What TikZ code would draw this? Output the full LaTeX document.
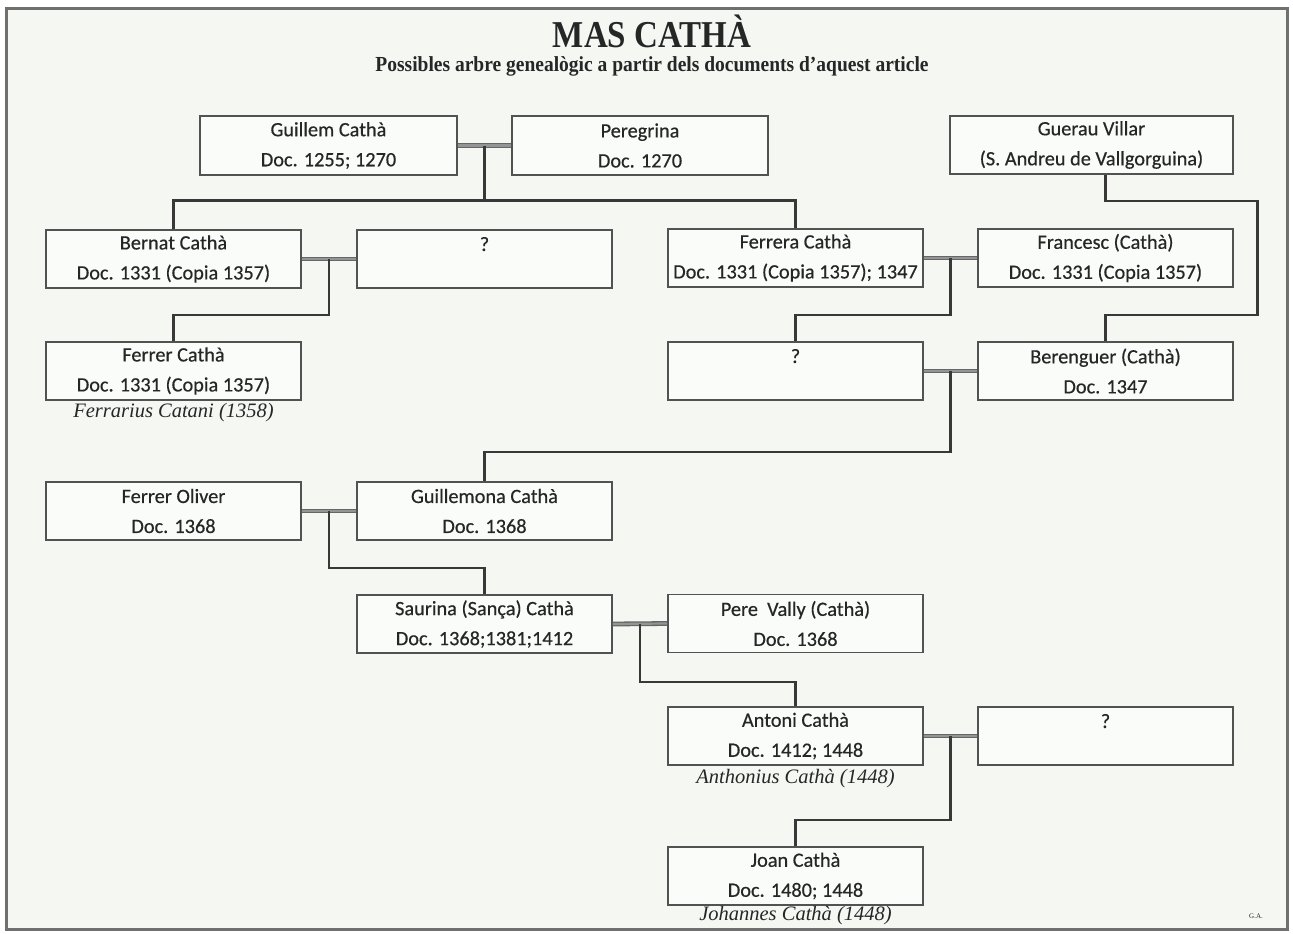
\documentclass[tikz,border=0pt]{standalone}
\usepackage{fontspec}
\setmainfont{Liberation Serif}
\newfontfamily\boxfont[FakeBold=0.5]{Carlito}
\usetikzlibrary{calc}
\definecolor{bgc}{HTML}{F4F7F2}
\definecolor{boxfill}{HTML}{FAFCF9}
\definecolor{framec}{HTML}{707070}
\definecolor{inkc}{HTML}{262626}
\tikzset{
  person/.style={draw=black!68, line width=1.6pt, fill=boxfill, rectangle,
    minimum width=255pt, minimum height=58pt, inner sep=0pt, align=center,
    text=inkc, font=\boxfont\fontsize{20.3}{30}\selectfont},
  spouse/.style={draw=black!60, line width=1.3pt, double=black!42, double distance=2.2pt},
  desc/.style={draw=black!78, line width=2.3pt},
  latin/.style={text=inkc, font=\itshape\fontsize{20.5}{24}\selectfont, inner sep=0pt},
}
\begin{document}
\begin{tikzpicture}[x=1pt,y=-1pt]
\useasboundingbox (0,0) rectangle (1293,934);
\fill[white] (0,0) rectangle (1293,934);
\fill[bgc] (6,9) rectangle (1287,929);
\draw[framec, line width=3pt] (6,9) rectangle (1287,929);

\node[text=inkc, font=\bfseries\fontsize{33}{40}\selectfont, inner sep=0pt] (title) at (652,31) {\scalebox{1}[1.15]{MAS CATHÀ}};
\node[text=inkc, font=\bfseries\fontsize{19.5}{22}\selectfont, inner sep=0pt] (subtitle) at (652,66) {\scalebox{1}[1.1]{Possibles arbre genealògic a partir dels documents d'aquest article}};

% persons
\node[person, minimum width=257pt, minimum height=59pt] (guillem) at (328.5,145.5) {Guillem Cathà\\Doc. 1255; 1270};
\node[person, minimum width=256pt, minimum height=59pt] (peregrina) at (640,145.5) {Peregrina\\Doc. 1270};
\node[person, minimum width=283pt] (guerau) at (1091.5,145) {Guerau Villar\\(S. Andreu de Vallgorguina)};
\node[person] (bernat) at (173.5,259) {Bernat Cathà\\Doc. 1331 (Copia 1357)};
\node[person] (q1) at (484.5,259) {?\\~};
\node[person] (ferrera) at (795.5,258) {Ferrera Cathà\\Doc. 1331 (Copia 1357); 1347};
\node[person] (francesc) at (1105.5,258) {Francesc (Cathà)\\Doc. 1331 (Copia 1357)};
\node[person] (ferrer) at (173.5,371) {Ferrer Cathà\\Doc. 1331 (Copia 1357)};
\node[person] (q2) at (795.5,371) {?\\~};
\node[person] (berenguer) at (1105.5,371) {Berenguer (Cathà)\\Doc. 1347};
\node[person] (oliver) at (173.5,511) {Ferrer Oliver\\Doc. 1368};
\node[person] (guillemona) at (484.5,511) {Guillemona Cathà\\Doc. 1368};
\node[person] (saurina) at (484.5,624) {Saurina (Sança) Cathà\\Doc. 1368;1381;1412};
\node[person] (pere) at (795.5,623.5) {Pere\ \ Vally (Cathà)\\Doc. 1368};
\node[person] (antoni) at (795.5,736) {Antoni Cathà\\Doc. 1412; 1448};
\node[person] (q3) at (1105.5,736) {?\\~};
\node[person] (joan) at (795.5,876) {Joan Cathà\\Doc. 1480; 1448};

% latin names
\node[latin] (ferrerlat) at (173.5,413) {Ferrarius Catani (1358)};
\node[latin] (antonilat) at (795.5,779) {Anthonius Cathà (1448)};
\node[latin] (joanlat) at (795.5,916) {Johannes Cathà (1448)};
\node[text=inkc, font=\fontsize{7}{8}\selectfont, inner sep=0pt] (ga) at (1256,916) {G.A.};

% marriages
\draw[spouse] (guillem.east) -- (peregrina.west);
\draw[spouse] (bernat.east) -- (q1.west);
\draw[spouse] (ferrera.east) -- (francesc.west);
\draw[spouse] (q2.east) -- (berenguer.west);
\draw[spouse] (oliver.east) -- (guillemona.west);
\draw[spouse] (saurina.east) -- (pere.west);
\draw[spouse] (antoni.east) -- (q3.west);

% descent
\coordinate (m1) at ($(guillem.east)!0.5!(peregrina.west)$);
\draw[desc] (m1) -- ++(0,55);
\draw[desc] (bernat.north) |- ($(m1)+(0,55)$) -| (ferrera.north);

\coordinate (m2) at ($(bernat.east)!0.5!(q1.west)$);
\draw[desc] (m2) -- ++(0,56) -| (ferrer.north);

\coordinate (m3) at ($(ferrera.east)!0.5!(francesc.west)$);
\draw[desc] (m3) -- ++(0,57) -| (q2.north);

\draw[desc] (guerau.south -| berenguer.north) -- ++(0,26) -- ++(152,0) -- ++(0,114) -| (berenguer.north);

\coordinate (m4) at ($(q2.east)!0.5!(berenguer.west)$);
\draw[desc] (m4) -- ++(0,81) -| (guillemona.north);

\coordinate (m5) at ($(oliver.east)!0.5!(guillemona.west)$);
\draw[desc] (m5) -- ++(0,57) -| (saurina.north);

\coordinate (m6) at ($(saurina.east)!0.5!(pere.west)$);
\draw[desc] (m6) -- ++(0,58) -| (antoni.north);

\coordinate (m7) at ($(antoni.east)!0.5!(q3.west)$);
\draw[desc] (m7) -- ++(0,84) -| (joan.north);
\end{tikzpicture}
\end{document}
